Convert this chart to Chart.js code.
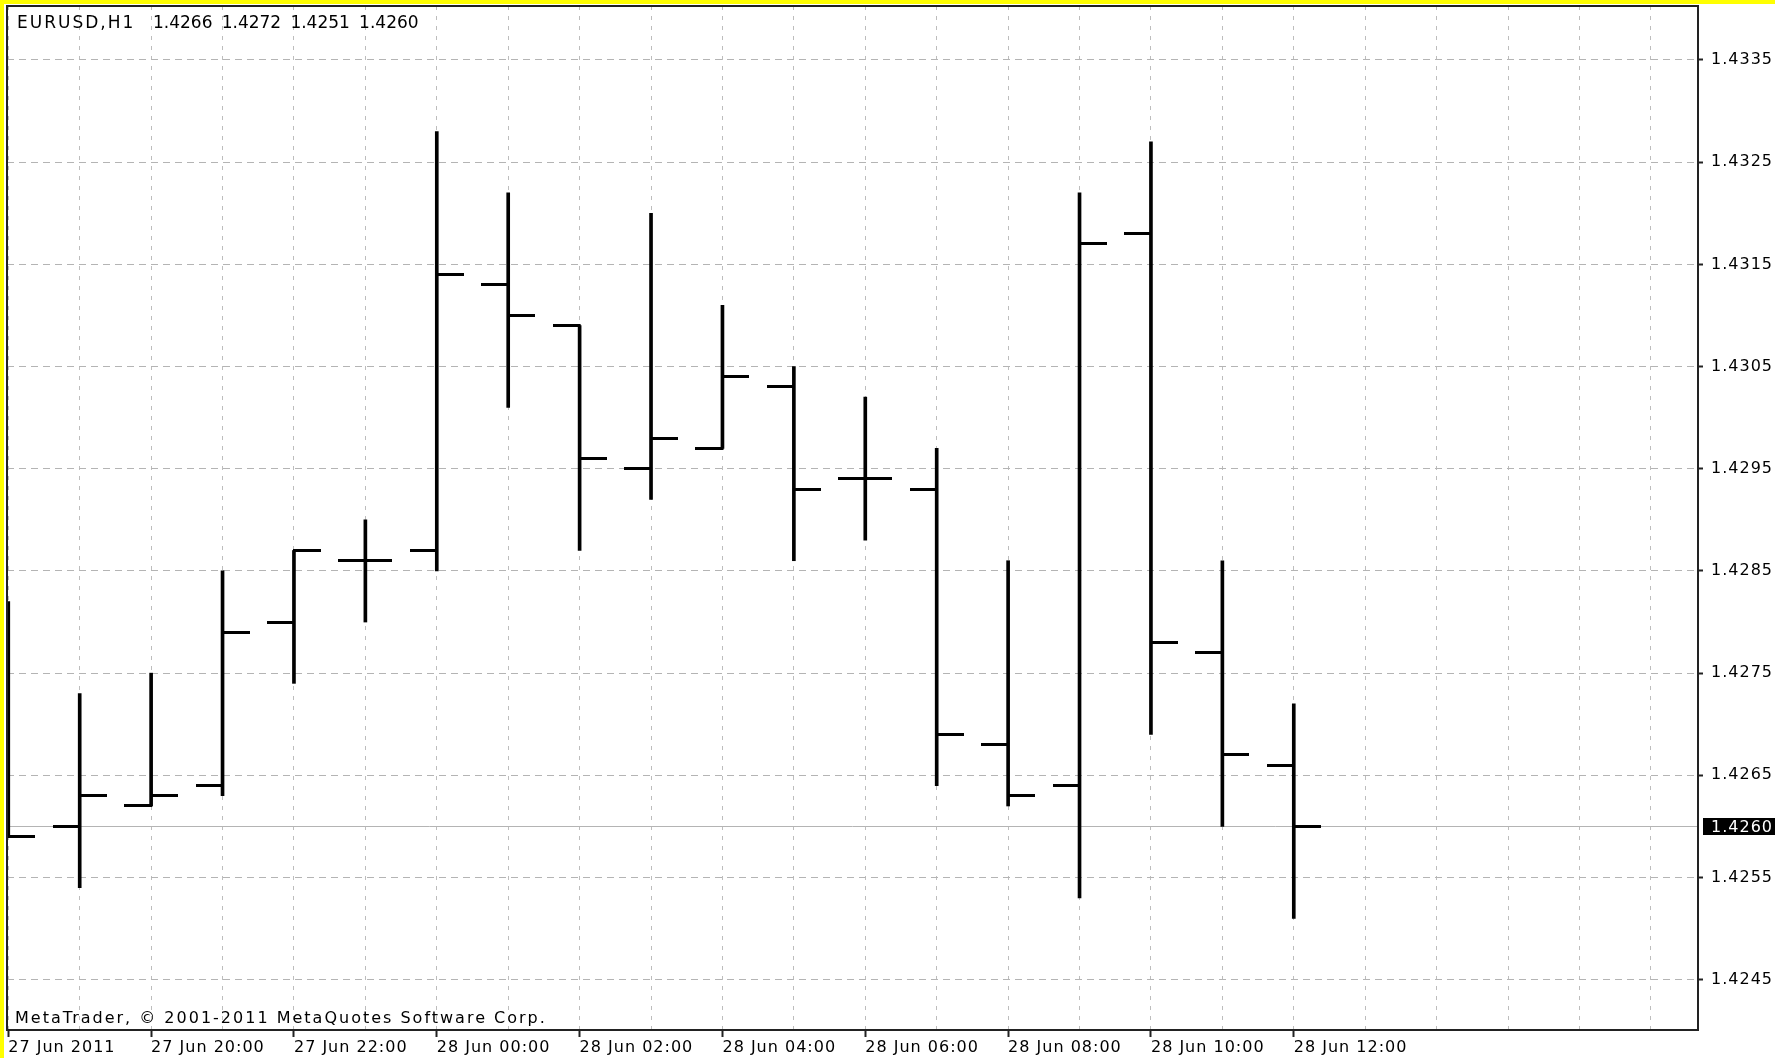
<!DOCTYPE html>
<html lang="pt-BR">
<head>
<meta charset="utf-8">
<title>EURUSD,H1</title>
<script src="https://cdn.jsdelivr.net/npm/chart.js@4.4.1/dist/chart.umd.min.js"></script>
<style>
  html, body { margin: 0; padding: 0; background: #fff; }
  canvas { display: block; }
</style>
</head>
<body>
<canvas id="grafico" width="1775" height="1058"></canvas>
<script>
// --- Dados (barras H1, 27/28 Jun 2011) ---
const SIMBOLO = 'EURUSD,H1';
const COPYRIGHT = 'MetaTrader, © 2001-2011 MetaQuotes Software Corp.';

// índice da barra = posição no eixo x (0 = 27 Jun 18:00)
const ABERTURAS   = [null, 1.4260, 1.4262, 1.4264, 1.4280, 1.4286, 1.4287, 1.4313, 1.4309, 1.4295,
                     1.4297, 1.4303, 1.4294, 1.4293, 1.4268, 1.4264, 1.4318, 1.4277, 1.4266];
const MAXIMAS     = [1.4282, 1.4273, 1.4275, 1.4285, 1.4287, 1.4290, 1.4328, 1.4322, 1.4309, 1.4320,
                     1.4311, 1.4305, 1.4302, 1.4297, 1.4286, 1.4322, 1.4327, 1.4286, 1.4272];
const MINIMAS     = [1.4259, 1.4254, 1.4262, 1.4263, 1.4274, 1.4280, 1.4285, 1.4301, 1.4287, 1.4292,
                     1.4297, 1.4286, 1.4288, 1.4264, 1.4262, 1.4253, 1.4269, 1.4260, 1.4251];
const FECHAMENTOS = [1.4259, 1.4263, 1.4263, 1.4279, 1.4287, 1.4286, 1.4314, 1.4310, 1.4296, 1.4298,
                     1.4304, 1.4293, 1.4294, 1.4269, 1.4263, 1.4317, 1.4278, 1.4267, 1.4260];

// rótulos do eixo de tempo e as barras onde ficam
const ROTULOS_TEMPO = ['27 Jun 2011', '27 Jun 20:00', '27 Jun 22:00', '28 Jun 00:00', '28 Jun 02:00',
                       '28 Jun 04:00', '28 Jun 06:00', '28 Jun 08:00', '28 Jun 10:00', '28 Jun 12:00'];
const BARRAS_ROTULADAS = [0, 2, 4, 6, 8, 10, 12, 14, 16, 18];

// preços marcados no eixo da direita
const PRECOS_EIXO = [1.4245, 1.4255, 1.4265, 1.4275, 1.4285, 1.4295, 1.4305, 1.4315, 1.4325, 1.4335];

// --- Aparência ---
const FONTE = 'DejaVu Sans';
const COR_BORDA = '#222';
const TAMANHO_TRACO = 27; // comprimento da marca de abertura/fechamento

const ultimaBarra = FECHAMENTOS.length - 1;
const precoAtual = FECHAMENTOS[ultimaBarra];
const formatarPreco = (v) => v.toFixed(4);

// --- Funções auxiliares ---

// marca horizontal usada como pointStyle: só o lado esquerdo (abertura) ou direito (fechamento)
function criarMarcaLateral(lado) {
    const c = document.createElement('canvas');
    c.width = TAMANHO_TRACO * 2;
    c.height = 3;
    const g = c.getContext('2d');
    g.fillStyle = '#000';
    if (lado === 'esquerda') {
        g.fillRect(0, 0, TAMANHO_TRACO + 1, 3);
    } else {
        g.fillRect(TAMANHO_TRACO - 1, 0, TAMANHO_TRACO + 1, 3);
    }
    return c;
}

const pluginMoldura = {
    id: 'moldura',
    beforeLayout(chart) {
        chart.ctx.letterSpacing = '1px';
    },
    beforeDraw(chart) {
        const { ctx, width, height } = chart;
        ctx.save();
        ctx.fillStyle = '#fff';
        ctx.fillRect(0, 0, width, height);
        ctx.fillStyle = '#ffff00';
        ctx.fillRect(0, 0, width, 4);
        ctx.fillRect(0, 0, 4, height);
        ctx.restore();
        ctx.letterSpacing = '1px';
    },
    beforeDatasetsDraw(chart) {
        // linha cinza do preço atual
        const { ctx, chartArea, scales } = chart;
        const y = Math.round(scales.y.getPixelForValue(precoAtual)) + 0.5;
        ctx.save();
        ctx.strokeStyle = '#b4b4b4';
        ctx.lineWidth = 1;
        ctx.beginPath();
        ctx.moveTo(chartArea.left, y);
        ctx.lineTo(chartArea.right, y);
        ctx.stroke();
        ctx.restore();
    },
    afterDraw(chart) {
        const { ctx, chartArea, scales, width } = chart;
        ctx.save();

        // borda da área do gráfico
        ctx.strokeStyle = COR_BORDA;
        ctx.lineWidth = 2;
        ctx.strokeRect(chartArea.left, chartArea.top, chartArea.right - chartArea.left, chartArea.bottom - chartArea.top);

        // cabeçalho com OHLC da última barra
        ctx.fillStyle = '#000';
        ctx.textBaseline = 'alphabetic';
        ctx.textAlign = 'left';
        ctx.font = `17px "${FONTE}"`;
        ctx.letterSpacing = '2px';
        ctx.fillText(SIMBOLO, 17, 28);
        ctx.letterSpacing = '0px';
        const ohlc = [ABERTURAS[ultimaBarra], MAXIMAS[ultimaBarra], MINIMAS[ultimaBarra], FECHAMENTOS[ultimaBarra]];
        ohlc.forEach((v, i) => {
            ctx.fillText(formatarPreco(v), 153 + i * 68.7, 28);
        });

        // copyright no rodapé
        ctx.font = `16px "${FONTE}"`;
        ctx.letterSpacing = '2px';
        ctx.fillText(COPYRIGHT, 15, 1023);

        // etiqueta preta do preço atual no eixo
        const y = scales.y.getPixelForValue(precoAtual);
        ctx.fillStyle = '#000';
        ctx.fillRect(chartArea.right + 5, Math.round(y) - 8, width - chartArea.right - 5, 17);
        ctx.fillStyle = '#fff';
        ctx.letterSpacing = '1px';
        ctx.textBaseline = 'middle';
        ctx.fillText(formatarPreco(precoAtual), chartArea.right + 13, y + 1);
        ctx.restore();
    }
};

// --- Montagem do gráfico ---
document.addEventListener('DOMContentLoaded', () => {
    const ctx = document.getElementById('grafico').getContext('2d');
    const marcaAbertura = criarMarcaLateral('esquerda');
    const marcaFechamento = criarMarcaLateral('direita');

    new Chart(ctx, {
        type: 'bar',
        data: {
            datasets: [
                {
                    label: 'Máxima-Mínima',
                    data: MAXIMAS.map((h, i) => ({ x: i, y: [MINIMAS[i], h] })),
                    backgroundColor: '#000',
                    borderWidth: 0,
                    barThickness: 3,
                    grouped: false
                },
                {
                    type: 'line',
                    label: 'Abertura',
                    data: ABERTURAS.map((v, i) => ({ x: i, y: v })),
                    showLine: false,
                    pointStyle: marcaAbertura,
                    pointRadius: 3,
                    pointHoverRadius: 3
                },
                {
                    type: 'line',
                    label: 'Fechamento',
                    data: FECHAMENTOS.map((v, i) => ({ x: i, y: v })),
                    showLine: false,
                    pointStyle: marcaFechamento,
                    pointRadius: 3,
                    pointHoverRadius: 3
                }
            ]
        },
        options: {
            responsive: false,
            animation: false,
            events: [],
            layout: { padding: { left: 7, top: 6, right: 0, bottom: 0 }, autoPadding: false },
            plugins: {
                legend: { display: false },
                tooltip: { enabled: false }
            },
            scales: {
                x: {
                    type: 'linear',
                    offset: false,
                    min: -0.018,
                    max: 23.66,
                    afterBuildTicks: (scale) => {
                        const ticks = [];
                        for (let i = 0; i <= 23; i++) ticks.push({ value: i });
                        scale.ticks = ticks;
                    },
                    afterFit: (scale) => {
                        scale.height = 28;
                        scale.paddingLeft = 0;
                        scale.paddingRight = 0;
                    },
                    grid: {
                        offset: false,
                        color: '#bdbdbd',
                        lineWidth: 1,
                        drawTicks: true,
                        tickLength: 7,
                        tickWidth: 2,
                        tickColor: (c) => BARRAS_ROTULADAS.includes(c.tick && c.tick.value) ? COR_BORDA : 'rgba(0,0,0,0)'
                    },
                    border: { display: false, dash: [4, 6] },
                    ticks: {
                        autoSkip: false,
                        maxRotation: 0,
                        minRotation: 0,
                        align: 'start',
                        padding: 1,
                        color: '#000',
                        font: { family: FONTE, size: 16 },
                        callback: (value) => {
                            const idx = BARRAS_ROTULADAS.indexOf(value);
                            return idx >= 0 ? ROTULOS_TEMPO[idx] : '';
                        }
                    }
                },
                y: {
                    type: 'linear',
                    position: 'right',
                    min: 1.424008,
                    max: 1.434028,
                    afterBuildTicks: (scale) => {
                        scale.ticks = PRECOS_EIXO.map(v => ({ value: v }));
                    },
                    afterFit: (scale) => {
                        scale.width = 77;
                        scale.paddingTop = 0;
                        scale.paddingBottom = 0;
                    },
                    grid: {
                        color: '#b4b4b4',
                        lineWidth: 1,
                        drawTicks: true,
                        tickLength: 5,
                        tickWidth: 2,
                        tickColor: COR_BORDA
                    },
                    border: { display: false, dash: [7, 5] },
                    ticks: {
                        padding: 8,
                        color: '#000',
                        font: { family: FONTE, size: 16 },
                        callback: (value) => formatarPreco(value)
                    }
                }
            }
        },
        plugins: [pluginMoldura]
    });
});
</script>
</body>
</html>
